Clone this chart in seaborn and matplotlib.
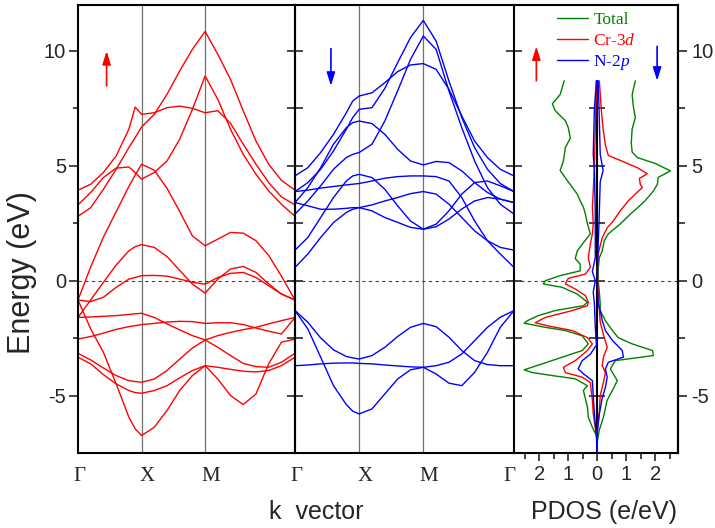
import numpy as np
import pandas as pd
import matplotlib
matplotlib.use('Agg')
import matplotlib.pyplot as plt
import seaborn as sns

# k path: Gamma=0, X=1, M=2, Gamma=2+sqrt(2)
k_path = [0, 0.2, 0.4, 0.6, 0.8, 0.9, 1.0, 1.2, 1.4, 1.6, 1.8, 2.0,
          2.2, 2.4, 2.6, 2.8, 3.0, 3.2, 3.414]

# spin-up bands (eV)
up1 = [3.94, 4.2, 4.71, 5.43, 6.59, 7.56, 7.24, 7.31, 7.53, 7.6, 7.5, 7.31, 7.4, 6.85, 5.94, 5.07, 4.27, 3.65, 3.3]
up2 = [2.8, 3.18, 3.98, 4.85, 5.79, 6.23, 6.69, 7.24, 8.11, 9.13, 10.07, 10.85, 9.85, 8.76, 7.39, 6.08, 5.07, 4.37, 3.94]
up3 = [3.3, 3.84, 4.49, 4.9, 4.95, 4.71, 4.42, 4.71, 5.21, 6.16, 7.46, 8.91, 7.89, 6.59, 5.5, 4.63, 3.91, 3.33, 2.8]
up4 = [-0.84, 0.6, 1.9, 3.0, 4.1, 4.6, 5.07, 4.81, 4.02, 3.01, 1.95, 1.52, 1.81, 2.1, 2.07, 1.74, 1.1, 0.2, -0.84]
up5 = [-1.6, -0.84, -0.07, 0.68, 1.3, 1.48, 1.57, 1.45, 1.05, 0.45, -0.15, -0.54, 0.07, 0.51, 0.62, 0.36, -0.14, -0.58, -0.84]
up6 = [-0.84, -0.91, -0.72, -0.29, 0.07, 0.14, 0.22, 0.23, 0.2, 0.07, -0.07, -0.15, 0.14, 0.32, 0.36, 0.14, -0.22, -0.58, -0.84]
up7 = [-0.84, -2.1, -3.12, -4.49, -5.94, -6.45, -6.74, -6.38, -5.65, -4.78, -4.13, -3.7, -4.28, -5.0, -5.39, -4.93, -3.62, -2.68, -2.54]
up8 = [-1.6, -1.58, -1.55, -1.52, -1.47, -1.44, -1.42, -1.6, -1.88, -2.14, -2.39, -2.58, -2.9, -3.26, -3.6, -3.74, -3.77, -3.55, -3.16]
up9 = [-2.54, -2.43, -2.28, -2.12, -2.0, -1.96, -1.91, -1.86, -1.8, -1.77, -1.78, -1.86, -1.83, -1.83, -1.91, -2.06, -2.2, -2.32, -1.6]
up10 = [-3.16, -3.45, -3.8, -4.13, -4.35, -4.39, -4.42, -4.28, -3.91, -3.41, -2.93, -2.58, -2.39, -2.25, -2.13, -2.03, -1.88, -1.74, -1.6]
up11 = [-3.33, -3.62, -4.09, -4.49, -4.78, -4.87, -4.9, -4.78, -4.57, -4.23, -3.91, -3.7, -3.77, -3.86, -3.94, -3.97, -3.91, -3.7, -3.33]

# spin-down bands (eV)
dn1 = [4.56, 4.92, 5.58, 6.37, 7.31, 7.82, 8.04, 8.18, 8.62, 9.1, 9.39, 9.45, 9.2, 8.33, 7.17, 6.08, 5.36, 4.85, 4.56]
dn2 = [3.88, 4.27, 4.85, 5.65, 6.59, 7.1, 7.46, 7.53, 8.37, 9.49, 10.58, 11.33, 10.43, 8.69, 7.1, 5.79, 4.85, 4.23, 3.88]
dn3 = [3.4, 4.05, 4.92, 5.94, 6.66, 6.88, 6.95, 6.84, 6.37, 5.72, 5.21, 5.04, 5.19, 5.14, 4.78, 4.27, 3.84, 3.55, 3.4]
dn4 = [2.9, 3.47, 4.13, 4.85, 5.36, 5.5, 5.58, 5.94, 6.95, 8.26, 9.63, 10.65, 10.07, 8.26, 6.66, 5.21, 4.05, 3.33, 2.9]
dn5 = [1.33, 1.88, 2.75, 3.62, 4.34, 4.56, 4.63, 4.49, 3.98, 3.26, 2.6, 2.24, 2.46, 3.04, 3.77, 4.27, 4.34, 4.13, 3.88]
dn6 = [3.88, 3.94, 4.03, 4.1, 4.17, 4.2, 4.23, 4.34, 4.46, 4.53, 4.56, 4.56, 4.53, 4.34, 3.62, 2.6, 1.74, 1.16, 0.58]
dn7 = [0.58, 1.16, 1.88, 2.53, 2.97, 3.11, 3.18, 3.3, 3.47, 3.62, 3.79, 3.88, 3.77, 3.33, 2.75, 2.17, 1.74, 1.45, 1.33]
dn8 = [3.4, 3.26, 3.11, 3.11, 3.15, 3.18, 3.18, 3.04, 2.75, 2.54, 2.32, 2.24, 2.35, 2.68, 3.12, 3.47, 3.62, 3.55, 3.4]
dn9 = [-1.3, -2.1, -3.33, -4.57, -5.39, -5.68, -5.8, -5.58, -4.93, -4.28, -3.88, -3.77, -4.06, -4.46, -4.57, -3.99, -3.12, -2.03, -1.3]
dn10 = [-1.3, -1.81, -2.49, -3.01, -3.3, -3.36, -3.41, -3.26, -2.9, -2.43, -2.03, -1.86, -2.0, -2.46, -3.04, -3.48, -3.65, -3.7, -3.7]
dn11 = [-3.7, -3.67, -3.62, -3.59, -3.58, -3.58, -3.6, -3.62, -3.67, -3.71, -3.75, -3.77, -3.7, -3.55, -3.19, -2.61, -2.03, -1.59, -1.3]

# PDOS, spin up positive, spin down negative (e/eV)
tot_up_e = [8.7, 8.1, 7.6, 7.1, 6.6, 6.0, 5.6, 5.36, 5.1, 4.78, 4.5, 4.2, 3.9, 3.5, 3.2, 2.9, 2.47, 2.04, 1.74, 1.3,
            1.0, 0.5, 0.0, -0.5, -1.0, -1.3, -1.74, -2.17, -2.48, -2.75, -3.04, -3.26, -3.48, -3.84, -4.35, -4.78,
            -5.2, -5.94, -6.5, -7.0]
tot_up = [1.31, 1.2, 1.24, 1.31, 1.2, 1.17, 1.2, 1.38, 2.0, 2.52, 2.1, 2.07, 1.93, 1.66, 1.41, 1.14, 0.79, 0.38, 0.24, 0.17,
          0.07, 0.03, 0.03, 0.07, 0.1, 0.1, 0.28, 0.52, 0.72, 1.2, 1.9, 1.93, 0.62, 0.45, 0.69, 0.52,
          0.34, 0.21, 0.07, 0.0]
tot_dn_e = [8.7, 8.1, 7.7, 7.4, 6.96, 6.66, 6.2, 5.8, 5.2, 4.8, 4.35, 3.77, 3.48, 3.2, 2.9, 2.47, 2.04, 1.65, 1.3, 0.96,
            0.72, 0.43, 0.22, 0.0, -0.14, -0.29, -0.58, -0.94, -1.09, -1.3, -1.52, -1.74, -1.85, -2.03, -2.17, -2.4,
            -2.75, -3.04, -3.33, -3.62, -3.88, -4.0, -4.13, -4.27, -4.57, -4.78, -5.14, -5.5, -5.94, -6.38, -6.74, -7.0]
tot_dn = [-1.14, -1.28, -1.55, -1.45, -1.1, -1.0, -0.93, -1.1, -1.17, -1.28, -1.03, -0.69, -0.59, -0.48, -0.41, -0.34, -0.24, -0.48, -0.69, -0.76,
          -0.59, -0.59, -1.28, -1.79, -1.86, -1.21, -0.69, -0.34, -0.48, -1.45, -2.03, -2.41, -2.52, -1.79, -1.1, -0.52,
          -0.31, -0.52, -1.21, -1.9, -2.52, -2.24, -1.55, -0.76, -0.34, -0.48, -0.41, -0.34, -0.31, -0.17, -0.03, 0.0]
cr_up_e = [8.7, 7.4, 6.6, 5.9, 5.45, 5.2, 4.9, 4.65, 4.45, 4.2, 4.05, 3.77, 3.48, 3.04, 2.6, 2.3, 1.87, 1.17, 0.5, -0.5,
           -1.3, -1.8, -2.48, -2.9, -3.33, -3.7, -4.0, -4.43, -5.0, -5.7, -6.5]
cr_up = [0.07, 0.14, 0.2, 0.28, 0.38, 0.86, 1.41, 1.72, 1.45, 1.48, 1.55, 1.31, 1.07, 0.79, 0.55, 0.34, 0.17, 0.03, 0.0, 0.03,
         0.07, 0.1, 0.24, 0.34, 0.21, 0.17, 0.28, 0.21, 0.1, 0.07, 0.0]
cr_dn_e = [8.7, 5.0, 3.9, 3.2, 2.47, 2.04, 1.6, 1.0, 0.58, 0.29, 0.1, -0.14, -0.36, -0.65, -0.94, -1.09, -1.3, -1.6, -1.83, -1.97,
           -2.17, -2.48, -2.75, -3.04, -3.48, -3.77, -4.0, -4.2, -4.43, -4.78, -5.2, -5.8, -6.4, -6.8]
cr_dn = [-0.03, -0.1, -0.14, -0.17, -0.14, -0.17, -0.24, -0.31, -0.24, -0.41, -1.0, -1.1, -0.76, -0.41, -0.31, -0.34, -0.86, -1.79, -2.14, -1.69,
         -0.86, -0.34, -0.17, -0.34, -0.76, -1.17, -1.1, -0.52, -0.24, -0.21, -0.17, -0.14, -0.07, 0.0]
n_up_e = [8.7, 7.0, 5.5, 4.8, 4.3, 3.0, 1.5, 0.0, -1.0, -1.3, -1.74, -2.17, -2.6, -3.04, -3.33, -3.55, -3.84, -4.2, -4.64, -5.1,
          -5.8, -6.6, -7.5]
n_up = [0.03, 0.07, 0.1, 0.2, 0.1, 0.07, 0.03, 0.0, 0.03, 0.1, 0.17, 0.28, 0.52, 0.86, 0.9, 0.38, 0.28, 0.34, 0.28, 0.17,
        0.07, 0.0, 0.0]
n_dn_e = [8.7, 7.5, 5.5, 4.8, 3.0, 1.0, 0.4, 0.0, -0.5, -1.0, -2.0, -2.8, -3.2, -3.48, -3.84, -4.05, -4.35, -5.0, -5.8, -6.8, -7.5]
n_dn = [-0.03, -0.1, -0.14, -0.1, -0.07, -0.07, -0.17, -0.07, -0.14, -0.1, -0.07, -0.03, -0.24, -0.52, -0.66, -0.48, -0.17, -0.14, -0.1, -0.03, 0.0]

sns.set_style('ticks')
plt.rcParams['font.family'] = ['Liberation Sans', 'DejaVu Sans']
plt.rcParams['mathtext.fontset'] = 'custom'
plt.rcParams['mathtext.it'] = 'Liberation Serif:italic'
plt.rcParams['mathtext.rm'] = 'Liberation Serif'

RED, BLUE, GREEN = '#ff0000', '#0000ff', '#008000'
serif = 'Liberation Serif'


def bands_df(bands):
    return pd.DataFrame({
        'k': np.tile(k_path, len(bands)),
        'E': np.concatenate(bands),
        'band': np.repeat(np.arange(len(bands)), len(k_path)),
    })


up_df = bands_df([up1, up2, up3, up4, up5, up6, up7, up8, up9, up10, up11])
dn_df = bands_df([dn1, dn2, dn3, dn4, dn5, dn6, dn7, dn8, dn9, dn10, dn11])

fig = plt.figure(figsize=(7.15, 5.28), dpi=100)
bot, h = 75 / 528, 448 / 528
ax1 = fig.add_axes([78 / 715, bot, 217 / 715, h])
ax2 = fig.add_axes([295 / 715, bot, 219 / 715, h])
ax3 = fig.add_axes([514 / 715, bot, 164 / 715, h])
ax3.patch.set_visible(False)
ax2.patch.set_visible(False)
ax3r = ax3.twinx()

for ax, df, col in ((ax1, up_df, RED), (ax2, dn_df, BLUE)):
    sns.lineplot(data=df, x='k', y='E', units='band', estimator=None, color=col,
                 lw=1.0, legend=False, ax=ax)
    ax.axvline(1, color='#707070', lw=0.9, zorder=1)
    ax.axvline(2, color='#707070', lw=0.9, zorder=1)
    ax.axhline(0, color='#444444', lw=0.8, ls=(0, (3, 3)), zorder=1)
    ax.set_xlim(0, k_path[-1])
    ax.set_ylim(-7.5, 12)
    ax.set_xlabel('')
    ax.set_ylabel('')
    ax.set_yticks([-5, 0, 5, 10])
    ax.set_yticks([-2.5, 2.5, 7.5], minor=True)
    ax.tick_params(axis='x', length=0, pad=10)

# high-symmetry labels sit a little right of the lines in the original
ax1.set_xticks([0.03, 1.08, 2.08], labels=['Γ', 'X', 'M'])
ax2.set_xticks([0.03, 1.09, 2.09, 3.35], labels=['Γ', 'X', 'M', 'Γ'])
for ax in (ax1, ax2):
    for lab in ax.get_xticklabels():
        lab.set_family(serif)
        lab.set_fontsize(15)

ax1.tick_params(axis='y', which='major', direction='out', length=6.5, width=1.2,
                labelsize=14.5, pad=2, left=True, right=False)
ax1.tick_params(axis='y', which='minor', direction='out', length=3.5, width=1.2,
                left=True, right=False)
ax2.tick_params(axis='y', which='both', direction='inout', length=11, width=1.2,
                left=True, right=True, labelleft=False)

# PDOS panel
pdos = [(tot_up_e, tot_up, GREEN), (tot_dn_e, tot_dn, GREEN),
        (cr_up_e, cr_up, RED), (cr_dn_e, cr_dn, RED),
        (n_up_e, n_up, BLUE), (n_dn_e, n_dn, BLUE)]
handles = []
for e, d, col in pdos:
    sns.lineplot(x=d, y=e, sort=False, estimator=None, color=col, lw=1.0,
                 ax=ax3, zorder=3)
    handles.append(ax3.lines[-1])
ax3.axhline(0, color='#444444', lw=0.8, ls=(0, (3, 3)), zorder=1)
ax3.set_xlim(-2.87, 2.78)
ax3.set_ylim(-7.5, 12)
ax3r.set_ylim(-7.5, 12)
ax3.spines['left'].set_position(('data', 0))
ax3.spines['left'].set_bounds(-7.5, 8.7)
ax3.set_yticks([-5, -2.5, 0, 2.5, 5, 7.5])
ax3.tick_params(axis='y', which='both', direction='inout', length=11, width=1.2,
                left=True, right=False, labelleft=False)
ax3.set_xticks([-2, -1, 0, 1, 2], labels=['2', '1', '0', '1', '2'])
ax3.set_xticks([-2.5, -1.5, -0.5, 0.5, 1.5, 2.5], minor=True)
ax3.tick_params(axis='x', which='major', direction='out', length=6, width=1.2,
                labelsize=14.5, pad=3)
ax3.tick_params(axis='x', which='minor', direction='out', length=4, width=1.2)
ax3.set_xlabel('')
ax3.set_ylabel('')

ax3r.set_yticks([-5, 0, 5, 10], labels=['-5', '0', '5', '10'])
ax3r.set_yticks([-2.5, 2.5, 7.5], minor=True)
ax3r.tick_params(axis='y', which='major', direction='out', length=6.5, width=1.2,
                 labelsize=14.5, pad=3)
ax3r.tick_params(axis='y', which='minor', direction='out', length=5, width=1.2)
for s in ('left', 'top', 'bottom'):
    ax3r.spines[s].set_visible(False)

for ax in (ax1, ax2, ax3, ax3r):
    for s in ax.spines.values():
        s.set_linewidth(1.5)
        s.set_color('black')
ax1.set_yticklabels(['-5', '0', '5', '10'])

ax3.legend(handles=[handles[0], handles[2], handles[4]],
           labels=['Total', 'Cr-3$d$', 'N-2$p$'],
           loc='upper left', bbox_to_anchor=(0.262, 0.984), frameon=False,
           borderpad=0, borderaxespad=0, handlelength=1.8, handletextpad=0.3,
           labelspacing=0.25, prop={'family': serif, 'size': 12.5},
           labelcolor='linecolor')

arrow = '-|>,head_length=0.8,head_width=0.25'
ax1.annotate('', xy=(0.45, 10.0), xytext=(0.45, 8.48),
             arrowprops=dict(arrowstyle=arrow, color=RED, lw=1.2, shrinkA=0, shrinkB=0))
ax2.annotate('', xy=(0.56, 8.48), xytext=(0.56, 10.1),
             arrowprops=dict(arrowstyle=arrow, color=BLUE, lw=1.2, shrinkA=0, shrinkB=0))
ax3.annotate('', xy=(-2.1, 10.2), xytext=(-2.1, 8.7),
             arrowprops=dict(arrowstyle=arrow, color=RED, lw=1.2, shrinkA=0, shrinkB=0))
ax3.annotate('', xy=(2.06, 8.7), xytext=(2.06, 10.2),
             arrowprops=dict(arrowstyle=arrow, color=BLUE, lw=1.2, shrinkA=0, shrinkB=0))

fig.text(316 / 715, 1 - 512 / 528, 'k  vector', ha='center', va='center', fontsize=18)
fig.text(604 / 715, 1 - 512 / 528, 'PDOS (e/eV)', ha='center', va='center', fontsize=18)
fig.text(22 / 715, 1 - 273 / 528, 'Energy (eV)', rotation=90, ha='center', va='center', fontsize=22)

fig.savefig('out.png', dpi=100)
